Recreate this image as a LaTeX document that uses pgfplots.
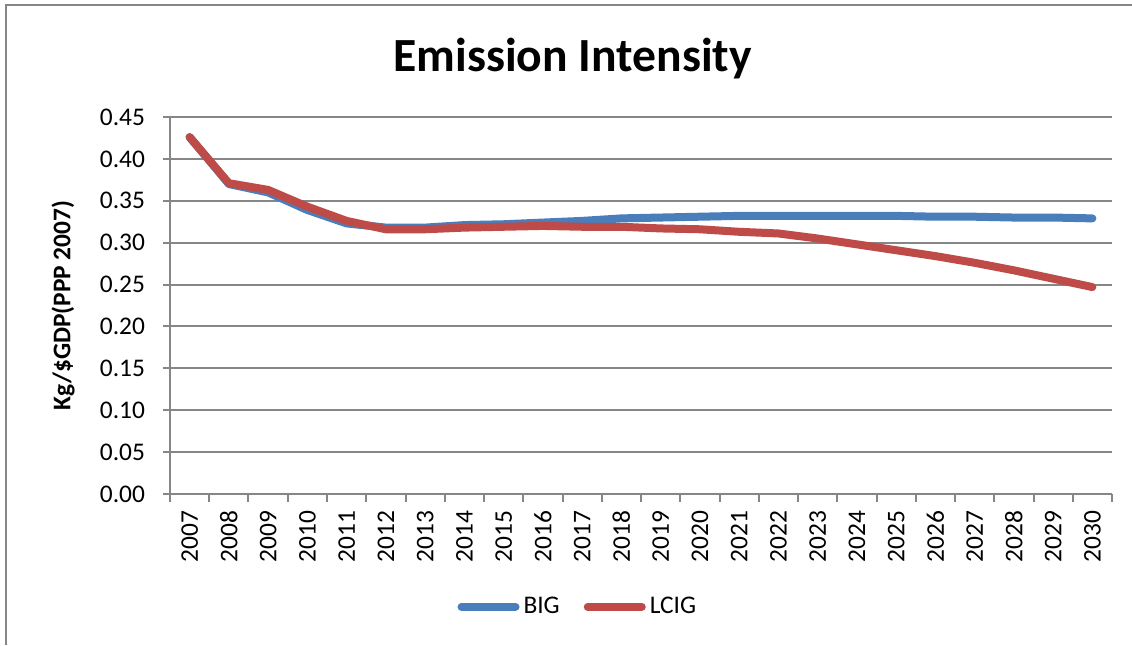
\documentclass[border=0pt]{standalone}
\usepackage{fontspec}
\setmainfont{Carlito}
\usepackage{pgfplots}
\pgfplotsset{compat=1.18}
\definecolor{bigblue}{HTML}{4A7EBB}
\definecolor{lcigred}{HTML}{BE4B48}
\definecolor{gridgray}{HTML}{868686}

\pgfplotstableread{
x  big    lcig
0  0.426  0.426
1  0.370  0.371
2  0.360  0.363
3  0.339  0.343
4  0.323  0.326
5  0.318  0.316
6  0.318  0.316
7  0.321  0.318
8  0.322  0.319
9  0.324  0.320
10 0.326  0.319
11 0.329  0.319
12 0.330  0.317
13 0.331  0.316
14 0.332  0.313
15 0.332  0.311
16 0.332  0.305
17 0.332  0.298
18 0.332  0.291
19 0.331  0.284
20 0.331  0.276
21 0.330  0.267
22 0.330  0.257
23 0.329  0.247
}\datatable

\begin{document}
\begin{tikzpicture}
\useasboundingbox (0,0) rectangle (566pt,-322.5pt);
\draw[gridgray, line width=1pt] (3pt,-322.5pt) -- (3pt,-2.5pt) -- (566pt,-2.5pt);
\begin{axis}[
  at={(85pt,-247pt)}, anchor=south west,
  scale only axis, width=471pt, height=188.5pt,
  xmin=-0.5, xmax=23.5, ymin=0, ymax=0.45,
  axis lines*=left,
  axis line style={gridgray, line width=1pt},
  xtick={0,...,23},
  xticklabels={2007,2008,2009,2010,2011,2012,2013,2014,2015,2016,2017,2018,2019,2020,2021,2022,2023,2024,2025,2026,2027,2028,2029,2030},
  minor xtick={-0.5,0.5,...,23.5},
  major x tick style={draw=none},
  minor x tick style={gridgray, line width=1pt},
  y tick style={gridgray, line width=1pt},
  major tick length=3.5pt, minor tick length=4pt,
  tick align=outside,
  ytick={0,0.05,0.10,0.15,0.20,0.25,0.30,0.35,0.40,0.45},
  /pgf/number format/fixed, /pgf/number format/fixed zerofill, /pgf/number format/precision=2,
  /pgf/number format/assume math mode=true,
  ymajorgrids, major y grid style={gridgray, line width=1pt},
  tick label style={font=\fontsize{12.7}{14}\selectfont, text=black},
  xticklabel style={yshift=-1.5pt, rotate=90, anchor=east},
  yticklabel style={anchor=east, xshift=-5.5pt},
  title={Emission Intensity},
  title style={font=\bfseries\fontsize{23.8}{28}\selectfont, at={(0.4275,1)}, anchor=base, yshift=17pt},
  ylabel={Kg/\$GDP(PPP 2007)},
  ylabel style={font=\bfseries\fontsize{12.7}{15}\selectfont, at={(-0.1136,0.5)}, anchor=center},
  legend style={at={(0.434,-0.299)}, anchor=center, draw=none, fill=none, legend columns=2,
    font=\fontsize{12.7}{14}\selectfont, /tikz/every even column/.append style={column sep=10pt}},
  legend image code/.code={\draw[#1, line cap=round] (0pt,0pt) -- (27pt,0pt);},
  every axis plot/.append style={line width=4pt, line join=round, line cap=round},
]
\addplot[bigblue] table[x=x, y=big] {\datatable};
\addlegendentry{BIG}
\addplot[lcigred] table[x=x, y=lcig] {\datatable};
\addlegendentry{LCIG}
\end{axis}
\end{tikzpicture}
\end{document}
